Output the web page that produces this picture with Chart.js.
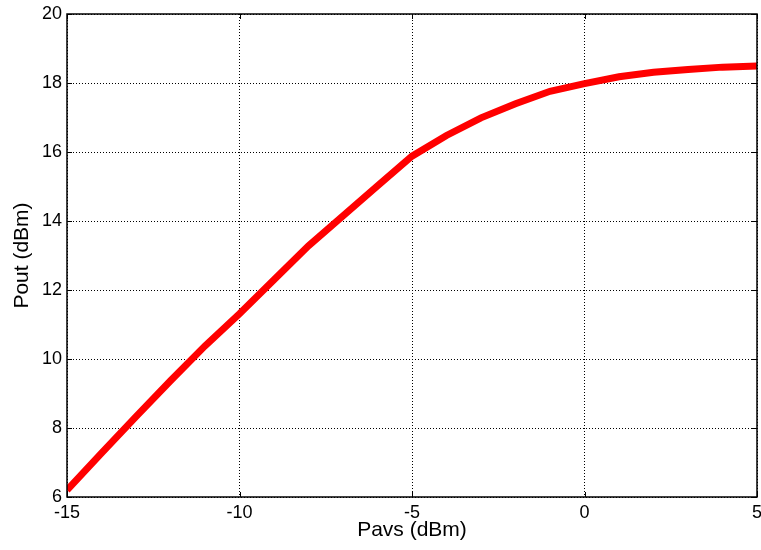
<!DOCTYPE html>
<html>
<head>
<meta charset="utf-8">
<script src="https://cdn.jsdelivr.net/npm/chart.js@4"></script>
<style>
  html, body { margin: 0; padding: 0; background: #fff; }
  #wrap { width: 761px; height: 550px; }
</style>
</head>
<body>
<div id="wrap"><canvas id="poutChart" width="761" height="550"></canvas></div>
<script>
// input power sweep (dBm) and measured output power (dBm)
const pavs = [-15, -14, -13, -12, -11, -10, -9, -8, -7, -6, -5, -4, -3, -2, -1, 0, 1, 2, 3, 4, 5];
const pout = [6.2, 7.27, 8.33, 9.37, 10.38, 11.31, 12.3, 13.28, 14.15, 15.02, 15.88, 16.48, 16.99, 17.40, 17.76, 17.98, 18.18, 18.31, 18.39, 18.46, 18.49];

const xTicks = [-15, -10, -5, 0, 5];
const yTicks = [6, 8, 10, 12, 14, 16, 18, 20];

const FONT = '"Liberation Sans", Arial, sans-serif';

// full box round the plot plus small inward tick marks, matlab style
const framePlugin = {
  id: 'frame',
  afterDraw(chart) {
    const { ctx, chartArea: a, scales } = chart;
    const tick = 5;
    ctx.save();
    ctx.strokeStyle = '#000';
    ctx.lineWidth = 1;
    ctx.beginPath();
    xTicks.forEach(v => {
      const px = Math.round(scales.x.getPixelForValue(v)) + 0.5;
      ctx.moveTo(px, a.bottom); ctx.lineTo(px, a.bottom - tick);
      ctx.moveTo(px, a.top); ctx.lineTo(px, a.top + tick);
    });
    yTicks.forEach(v => {
      const py = Math.round(scales.y.getPixelForValue(v)) + 0.5;
      ctx.moveTo(a.left, py); ctx.lineTo(a.left + tick, py);
      ctx.moveTo(a.right, py); ctx.lineTo(a.right - tick, py);
    });
    ctx.stroke();
    ctx.lineWidth = 1.5;
    ctx.strokeRect(a.left, a.top, a.right - a.left, a.bottom - a.top);
    ctx.restore();
  }
};

// in v4 the grid line dash is read from the border options
const gridOpts = { color: '#000', lineWidth: 1, drawTicks: false };
const borderOpts = { display: false, dash: [1, 2] };

const ctx = document.getElementById('poutChart').getContext('2d');

new Chart(ctx, {
  type: 'line',
  data: {
    datasets: [{
      label: 'Pout',
      data: pavs.map((x, i) => ({ x, y: pout[i] })),
      borderColor: '#ff0000',
      borderWidth: 7,
      pointRadius: 0,
      tension: 0,
      fill: false,
    }]
  },
  options: {
    responsive: false,
    animation: false,
    devicePixelRatio: 1,
    parsing: false,
    layout: { padding: { top: 14, right: 4, left: 0, bottom: 0 } },
    plugins: {
      legend: { display: false },
      tooltip: { enabled: false },
    },
    scales: {
      x: {
        type: 'linear',
        min: -15,
        max: 5,
        afterBuildTicks: s => { s.ticks = xTicks.map(v => ({ value: v })); },
        afterFit: s => { s.height = 53; s.paddingLeft = 0; s.paddingRight = 0; },
        grid: gridOpts,
        border: borderOpts,
        ticks: { color: '#000', padding: 5, maxRotation: 0, font: { family: FONT, size: 18 } },
        title: {
          display: true,
          text: 'Pavs (dBm)',
          color: '#000',
          font: { family: FONT, size: 21 },
          padding: { top: 0, bottom: 7 },
        },
      },
      y: {
        type: 'linear',
        min: 6,
        max: 20,
        afterBuildTicks: s => { s.ticks = yTicks.map(v => ({ value: v })); },
        afterFit: s => { s.width = 67; s.paddingTop = 0; s.paddingBottom = 0; },
        grid: gridOpts,
        border: borderOpts,
        ticks: { color: '#000', padding: 5, font: { family: FONT, size: 18 } },
        title: {
          display: true,
          text: 'Pout (dBm)',
          color: '#000',
          font: { family: FONT, size: 21 },
          padding: { top: 10, bottom: 0 },
        },
      },
    },
  },
  plugins: [framePlugin],
});
</script>
</body>
</html>
